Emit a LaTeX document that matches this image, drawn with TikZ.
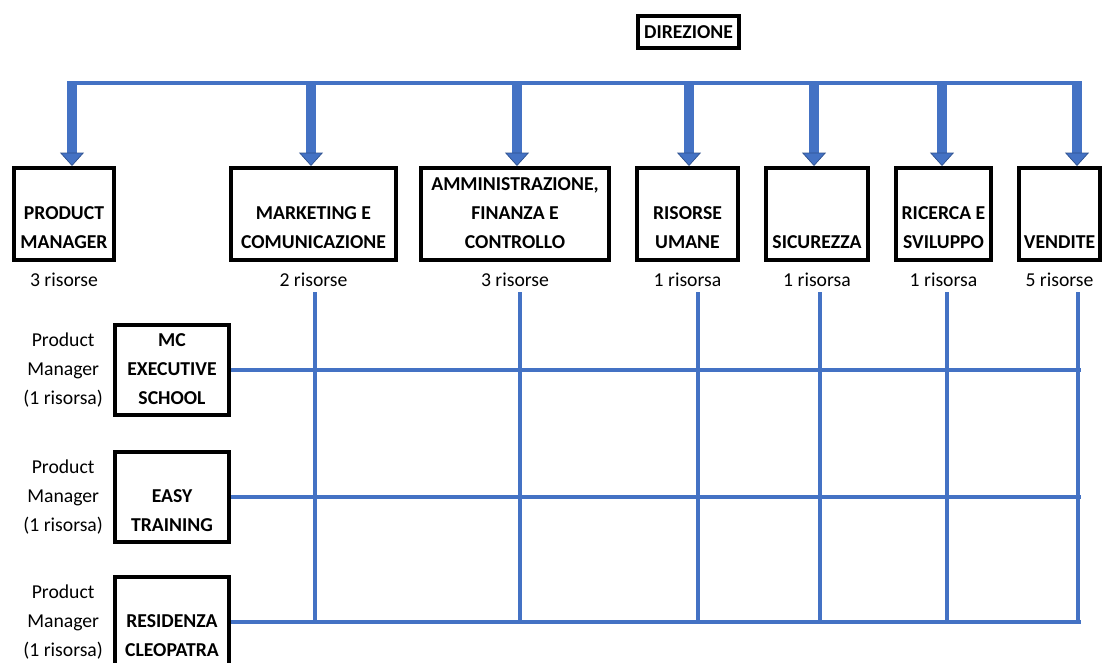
\documentclass[tikz,border=0pt]{standalone}
\usepackage{fontspec}
\setmainfont{Carlito}
\usepackage{tikz}
\usetikzlibrary{arrows.meta,positioning}
\definecolor{blu}{HTML}{4472C4}
\definecolor{bluscuro}{HTML}{2F528F}
\newcommand{\righe}[3]{\strut#1\\#2\\#3\strut}

\begin{document}
\begin{tikzpicture}[x=0.025cm,y=-0.025cm,
    u/.style={draw,line width=2.8pt,inner sep=0pt,align=center,
      font=\fontsize{14}{20.6}\selectfont\bfseries,minimum height=2.3cm},
    ris/.style={inner sep=0pt,align=center,font=\fontsize{14}{20.6}\selectfont},
    a/.style={draw=bluscuro,double=blu,double distance=6.6pt,line width=0.5pt,
      -{Triangle[width=17pt,length=9.5pt,fill=blu,color=bluscuro,line width=0.5pt]}},
    g/.style={blu,line width=3.5pt}]
  \useasboundingbox (0,0) rectangle (1103,663);
  \node[u,minimum width=2.525cm,minimum height=0.8cm] (dir) at (688.5,32) {DIREZIONE};
  % uffici
  \node[u,minimum width=2.5cm] (pm) at (64,214) {\righe{}{PRODUCT}{MANAGER}};
  \node[u,minimum width=4.125cm] (mk) at (313.5,214) {\righe{}{MARKETING E}{COMUNICAZIONE}};
  \node[u,minimum width=4.7cm] (amm) at (515,214) {\righe{AMMINISTRAZIONE,}{FINANZA E}{CONTROLLO}};
  \node[u,minimum width=2.525cm] (ru) at (687.5,214) {\righe{}{RISORSE}{UMANE}};
  \node[u,minimum width=2.55cm] (sic) at (817,214) {\righe{}{}{SICUREZZA}};
  \node[u,minimum width=2.375cm] (ric) at (943.5,214) {\righe{}{RICERCA E}{SVILUPPO}};
  \node[u,minimum width=2.025cm] (ven) at (1059.5,214) {\righe{}{}{VENDITE}};
  \node[ris,below=7.5pt of pm] (rpm) {3 risorse};
  \node[ris,below=7.5pt of mk] (rmk) {2 risorse};
  \node[ris,below=7.5pt of amm] (ramm) {3 risorse};
  \node[ris,below=7.5pt of ru] (rru) {1 risorsa};
  \node[ris,below=7.5pt of sic] (rsic) {1 risorsa};
  \node[ris,below=7.5pt of ric] (rric) {1 risorsa};
  \node[ris,below=7.5pt of ven] (rven) {5 risorse};
  % business unit
  \node[u,minimum width=2.85cm,minimum height=2.25cm] (mc) at (172,370) {\righe{MC}{EXECUTIVE}{SCHOOL}};
  \node[u,minimum width=2.85cm,minimum height=2.25cm] (easy) at (172,497) {\righe{}{EASY}{TRAINING}};
  \node[u,minimum width=2.85cm,minimum height=2.25cm] (res) at (172,622) {\righe{}{RESIDENZA}{CLEOPATRA}};
  \node[ris,left=7pt of mc] (pmc) {Product\\Manager\\(1 risorsa)};
  \node[ris,left=7pt of easy] (peasy) {Product\\Manager\\(1 risorsa)};
  \node[ris,left=7pt of res] (pres) {Product\\Manager\\(1 risorsa)};
  % barra e frecce
  \coordinate (bl) at (67,83);
  \coordinate (br) at (1082,83);
  \draw[g] (bl) -- (br);
  \foreach \x/\b in {72/pm,311/mk,517/amm,689/ru,814/sic,942/ric,1077/ven}{
    \coordinate (t\b) at (\x,85);
    \draw[a] (t\b) -- (t\b |- \b.north);
  }
  % matrice
  \coordinate (fine) at (1081,0);
  \foreach \y in {mc,easy,res}
    \draw[g] (\y.east) -- (\y.east -| fine);
  \foreach \x in {315,520,698,820,947,1078}
    \draw[g] (\x,292) -- (res.east -| \x,0);
\end{tikzpicture}
\end{document}
